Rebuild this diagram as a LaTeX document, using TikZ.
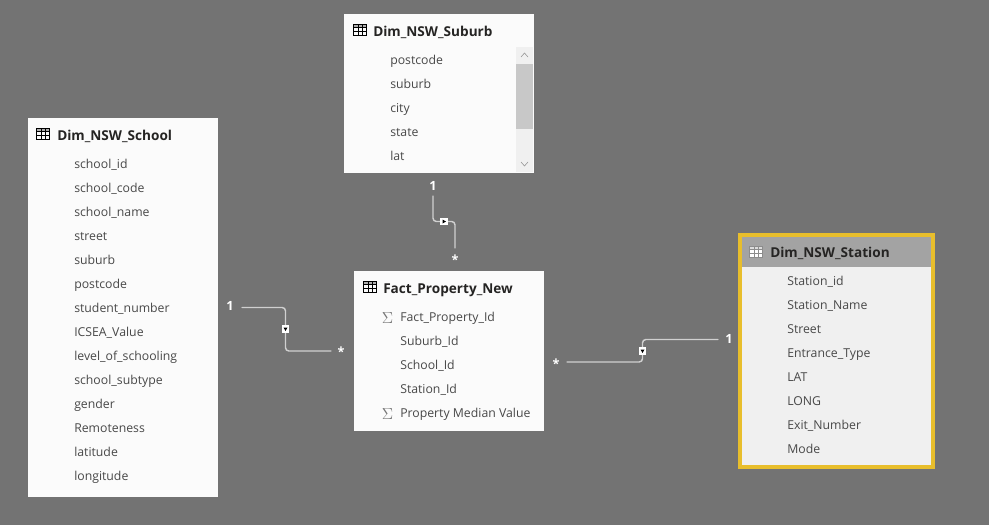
\documentclass[tikz,border=0pt]{standalone}
\usepackage{fontspec}
\setmainfont{Open Sans}
\usepackage{xcolor}
\usetikzlibrary{positioning}
\definecolor{fond}{HTML}{737373}
\definecolor{papier}{HTML}{FBFBFB}
\definecolor{encre}{HTML}{484848}
\definecolor{titreencre}{HTML}{252423}
\definecolor{trait}{HTML}{D0D0D0}
\definecolor{jaune}{HTML}{E8BE2C}
\definecolor{entete}{HTML}{A3A3A3}
\definecolor{barre}{HTML}{C8C8C8}
\definecolor{piste}{HTML}{F0F0F0}
\definecolor{grille}{HTML}{8C8C8C}

\begin{document}
\begin{tikzpicture}[x=0.75pt,y=-0.75pt]
        \tikzset{
          boite/.style={
            fill=papier,draw=none,inner sep=0pt,outer sep=0pt,anchor=north west,
          },
          titre/.style={
            anchor=west,inner sep=0pt,font=\fontsize{10.2}{12}\selectfont\bfseries,text=titreencre,
            text height=1.6ex,text depth=0.5ex,
          },
          champ/.style={
            anchor=west,inner sep=0pt,font=\fontsize{9.2}{11}\selectfont,text=encre,
            text height=1.6ex,text depth=0.5ex,
          },
          somme/.style={
            inner sep=0pt,font=\fontsize{11.5}{12}\selectfont,text=encre!75,
          },
          compte/.style={
            inner sep=1pt,font=\fontsize{9.5}{10}\selectfont\bfseries,text=white,
          },
          lien/.style={
            line cap=round,line width=1.1pt,draw=trait,rounded corners=2.5pt,
          },
          sens/.style={
            fill=white,draw=none,minimum size=5.5pt,inner sep=0pt,
          },
          pointe/.style={fill=black,draw=none},
          icone/.pic={
            \fill[#1,opacity=0.3] (-6.5,-5.5) rectangle (6.5,-2.5);
            \draw[line width=0.3pt,draw=#1] (-6.5,-5.5) rectangle (6.5,5.5);
            \foreach \gx in {-2.2,2.2} \draw[line width=0.3pt,draw=#1] (\gx,-5.5) -- (\gx,5.5);
            \foreach \gy in {-2.5,1.5} \draw[line width=0.3pt,draw=#1] (-6.5,\gy) -- (6.5,\gy);
          },
          icone/.default=grille,
        }
        % fond
        \fill[fond] (0,0) rectangle (989,525);
        \useasboundingbox (0,0) rectangle (989,525);

        % tables
        \node[boite,minimum width=190*0.75pt,minimum height=379*0.75pt] (school) at (28,118) {};
        \node[boite,minimum width=190*0.75pt,minimum height=159*0.75pt] (suburb) at (344,14) {};
        \node[boite,minimum width=190*0.75pt,minimum height=160*0.75pt] (fact) at (354,271) {};
        \node[boite,fill=piste,draw=jaune,line width=3pt,minimum width=193*0.75pt,minimum height=232*0.75pt] (station) at (740,235) {};
        \fill[entete] (742,237) rectangle (931,267);

        \draw (43,134) pic {icone};
        \draw (360,30) pic {icone};
        \draw (370,287) pic {icone};
        \fill[white] (749.5,246.5) rectangle (762.5,257.5);
        \draw (756,252) pic {icone=grille};

        \node[titre] (t1) at (57,137) {Dim\_NSW\_School};
        \node[titre] (t2) at (373,33) {Dim\_NSW\_Suburb};
        \node[titre] (t3) at (383,290) {Fact\_Property\_New};
        \node[titre] (t4) at (770,254) {Dim\_NSW\_Station};

        \foreach \txt [count=\i] in {school\_id,school\_code,school\_name,street,suburb,postcode,student\_number,ICSEA\_Value,level\_of\_schooling,school\_subtype,gender,Remoteness,latitude,longitude}
            \node[champ] (school\i) at (74,{141+24*\i}) {\txt};
        \foreach \txt [count=\i] in {postcode,suburb,city,state,lat}
            \node[champ] (suburb\i) at (390,{37+24*\i}) {\txt};
        \foreach \txt [count=\i] in {Fact\_Property\_Id,Suburb\_Id,School\_Id,Station\_Id,Property Median Value}
            \node[champ] (fact\i) at (400,{294+24*\i}) {\txt};
        \foreach \txt [count=\i] in {Station\_id,Station\_Name,Street,Entrance\_Type,LAT,LONG,Exit\_Number,Mode}
            \node[champ] (station\i) at (787,{258+24*\i}) {\txt};

        \node[somme,left=5pt of fact1.west] (s1) {$\Sigma$};
        \node[somme,left=5pt of fact5.west] (s5) {$\Sigma$};

        % barre de defilement
        \fill[piste] (516,47) rectangle (533,172);
        \fill[barre] (516,64) rectangle (533,129);
        \draw[encre!60,line width=0.4pt] (521,57) -- (524.5,53) -- (528,57);
        \draw[encre!60,line width=0.4pt] (521,162) -- (524.5,166) -- (528,162);

        % cardinalites
        \node[compte] (un1) at (433,186) {1};
        \node[compte] (plus1) at (455,260) {*};
        \node[compte] (un2) at (230,306) {1};
        \node[compte] (plus2) at (341,352) {*};
        \node[compte] (plus3) at (556,364) {*};
        \node[compte] (un3) at (729,339) {1};

        \coordinate (d1) at (433,196);
        \coordinate (a1) at (455,248);
        \coordinate (d2) at (242,307.5);
        \coordinate (a2) at (331,351);
        \coordinate (d3) at (567,362);
        \coordinate (a3) at (718,339.5);

        \node[sens] (m1) at (444,221.5) {};
        \node[sens] (m2) at (285.5,329) {};
        \node[sens] (m3) at (642.5,351) {};

        \draw[lien] (d1) |- (m1.center) -| (a1);
        \draw[lien] (d2) -| (m2.center) |- (a2);
        \draw[lien] (d3) -| (m3.center) |- (a3);

        \node[sens] at (m1) {};
        \node[sens] at (m2) {};
        \node[sens] at (m3) {};
        \fill[pointe] (442.5,219.5) -- (446,221.5) -- (442.5,223.5) -- cycle;
        \fill[pointe] (283.5,327.5) -- (287.5,327.5) -- (285.5,331) -- cycle;
        \fill[pointe] (640.5,349.5) -- (644.5,349.5) -- (642.5,353) -- cycle;
\end{tikzpicture}
\end{document}
